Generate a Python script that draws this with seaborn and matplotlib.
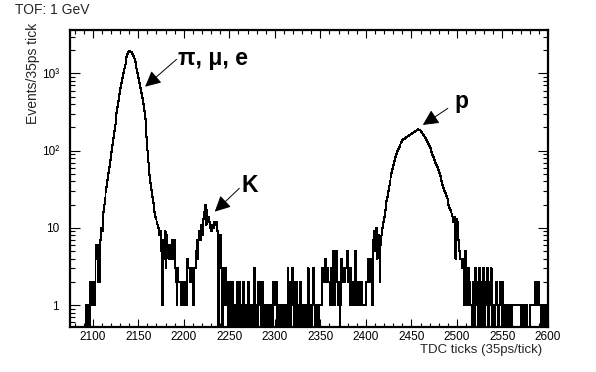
import numpy as np
import pandas as pd
import matplotlib
matplotlib.use("Agg")
import matplotlib.pyplot as plt
import matplotlib.ticker as mticker
import seaborn as sns

# ------------------------------------------------------------
# data: events per TDC tick, one value per tick starting at 2075
# ------------------------------------------------------------
first_tick = 2075
counts = [
    0, 0, 0, 0, 0, 0, 0, 0, 0, 0,              # 2075
    0, 0, 0, 0, 0, 0, 0, 0, 1, 1,              # 2085
    0, 0, 2, 1, 2, 1, 2, 1, 6, 4,              # 2095
    6, 2, 2, 7, 10, 9, 16, 20, 24, 29,         # 2105
    34, 42, 52, 62, 75, 95, 118, 145, 180, 215,                  # 2115
    260, 310, 370, 440, 540, 640, 750, 870, 1000, 1150,          # 2125
    1300, 1480, 1650, 1780, 1880, 1950, 1920, 1870, 1790, 1700,  # 2135
    1560, 1420, 1280, 1150, 1010, 880, 760, 650, 560, 480,       # 2145
    400, 330, 260, 200, 150, 100, 70, 48, 38, 31,                # 2155
    25, 21, 16, 14, 13, 12, 11, 10, 8, 9,      # 2165
    5, 1, 7, 4, 9, 3, 8, 6, 4, 6,              # 2175
    4, 6, 7, 4, 7, 3, 2, 1, 3, 2,              # 2185
    2, 2, 1, 2, 2, 1, 2, 1, 2, 4,              # 2195
    3, 3, 2, 3, 2, 1, 3, 3, 5, 7,              # 2205
    4, 7, 9, 7, 11, 8, 13, 16, 20, 11,         # 2215
    17, 12, 14, 12, 10, 9, 11, 10, 12, 11,     # 2225
    12, 9, 9, 0, 8, 8, 3, 0, 3, 1,             # 2235
    3, 1, 2, 2, 0, 1, 2, 0, 2, 1,              # 2245
    0, 1, 0, 2, 1, 0, 2, 0, 1, 0,              # 2255
    2, 1, 0, 1, 0, 1, 2, 0, 1, 0,              # 2265
    1, 0, 3, 1, 0, 1, 0, 2, 1, 2,              # 2275
    0, 2, 1, 0, 1, 0, 1, 0, 1, 1,              # 2285
    0, 1, 0, 2, 2, 1, 2, 0, 1, 0,              # 2295
    1, 0, 1, 0, 1, 1, 0, 1, 0, 3,              # 2305
    1, 2, 0, 1, 3, 2, 0, 1, 2, 0,              # 2315
    1, 0, 1, 2, 0, 1, 0, 1, 0, 1,              # 2325
    0, 3, 1, 0, 1, 0, 1, 3, 1, 0,              # 2335
    1, 0, 1, 0, 1, 1, 1, 3, 2, 3,              # 2345
    4, 2, 3, 2, 2, 1, 2, 3, 1, 5,              # 2355
    1, 2, 5, 2, 1, 2, 0, 1, 4, 2,              # 2365
    3, 2, 3, 3, 5, 2, 3, 1, 3, 2,              # 2375
    1, 2, 1, 5, 1, 2, 1, 2, 1, 1,              # 2385
    2, 1, 1, 1, 1, 2, 2, 4, 3, 2,              # 2395
    3, 4, 1, 7, 9, 5, 10, 4, 8, 5,             # 2405
    2, 6, 8, 10, 12, 14, 17, 22, 25, 30,       # 2415
    35, 40, 46, 52, 58, 66, 74, 82, 90, 98,    # 2425
    104, 112, 118, 125, 130, 136, 140, 143, 146, 150,  # 2435
    152, 155, 158, 160, 163, 166, 170, 172, 175, 178,  # 2445
    182, 185, 188, 186, 183, 178, 172, 166, 160, 152,  # 2455
    145, 138, 130, 122, 116, 108, 100, 95, 88, 82,     # 2465
    76, 70, 66, 62, 56, 52, 47, 42, 40, 36,    # 2475
    33, 30, 28, 26, 24, 20, 18, 17, 16, 15,    # 2485
    14, 12, 14, 4, 13, 12, 7, 5, 4, 4,         # 2495
    3, 4, 3, 1, 5, 3, 1, 3, 2, 1,              # 2505
    1, 1, 0, 2, 0, 3, 1, 2, 0, 3,              # 2515
    1, 0, 2, 1, 3, 0, 2, 1, 3, 0,              # 2525
    2, 1, 3, 1, 0, 1, 0, 1, 2, 1,              # 2535
    0, 1, 2, 1, 0, 2, 1, 0, 1, 0,              # 2545
    1, 0, 1, 0, 1, 0, 1, 1, 1, 1,              # 2555
    1, 1, 1, 1, 1, 0, 1, 0, 1, 0,              # 2565
    0, 1, 0, 0, 0, 1, 1, 1, 1, 1,              # 2575
    1, 2, 1, 1, 2, 1, 1, 0, 1, 0,              # 2585
    1, 0, 1, 1, 0,                             # 2595
]

xtick_values = [2100, 2150, 2200, 2250, 2300, 2350, 2400, 2450, 2500, 2550, 2600]
ytick_values = [1, 10, 100, 1000]
ytick_labels = ["1", "10", "10²", "10³"]
peak_labels = ["π, μ, e", "K", "p"]

# ------------------------------------------------------------
# style
# ------------------------------------------------------------
sns.set_theme(style="ticks")
plt.rcParams["font.family"] = ["Liberation Sans", "DejaVu Sans"]

n_bins = len(counts)
last_tick = first_tick + n_bins
df = pd.DataFrame({
    "tdc": np.arange(first_tick, last_tick) + 0.5,
    "events": counts,
})

W, H = 596, 372
fig = plt.figure(figsize=(W / 100, H / 100), dpi=100)
ax = fig.add_axes([70 / W, 45.3 / H, 478 / W, 296.7 / H])

sns.histplot(data=df, x="tdc", weights="events", binwidth=1,
             binrange=(first_tick, last_tick), element="step",
             fill=False, color="black", linewidth=0.7, antialiased=False, ax=ax)

ax.set_yscale("log")
ax.set_xlim(first_tick, last_tick)
ax.set_ylim(0.524, 3650)

ax.xaxis.set_major_locator(mticker.FixedLocator(xtick_values))
ax.xaxis.set_major_formatter(mticker.FixedFormatter([str(v) for v in xtick_values]))
ax.xaxis.set_minor_locator(mticker.MultipleLocator(10))
ax.yaxis.set_major_locator(mticker.FixedLocator(ytick_values))
ax.yaxis.set_major_formatter(mticker.FixedFormatter(ytick_labels))
ax.yaxis.set_minor_locator(mticker.LogLocator(base=10, subs=range(2, 10)))
ax.yaxis.set_minor_formatter(mticker.NullFormatter())

ax.tick_params(axis="both", which="both", direction="in", top=True, right=True,
               width=0.8, colors="black", labelsize=8.5)
ax.tick_params(axis="x", which="major", length=5.5, pad=3)
ax.tick_params(axis="x", which="minor", length=3)
ax.tick_params(axis="y", which="major", length=7, pad=8)
ax.tick_params(axis="y", which="minor", length=3.5)
for s in ax.spines.values():
    s.set_linewidth(1.6)
    s.set_color("black")
ax.set_xlabel("")
ax.set_ylabel("")

# peak annotations (text position, arrow tail, arrow tip in data coords)
annot = [
    ((2194, 1285), (2192, 1520), (2157.5, 673)),
    ((2263, 29.4), (2261, 32.5), (2234, 16.2)),
    ((2497, 360), (2490, 353), (2462.5, 215)),
]
for label, (txt, tail, tip) in zip(peak_labels, annot):
    ax.annotate("", xy=tip, xytext=tail,
                arrowprops=dict(arrowstyle="-|>,head_length=0.8,head_width=0.4",
                                color="black", lw=0.7, shrinkA=0, shrinkB=0))
    ax.text(txt[0], txt[1], label, fontsize=16.5, fontweight="bold",
            ha="left", va="baseline", color="black")

fig.text(15 / W, 1 - 10 / H, "TOF: 1 GeV", fontsize=10, ha="left", va="center")
fig.text(33 / W, 1 - 23 / H, "Events/35ps tick", fontsize=10, rotation=90,
         ha="center", va="top")
fig.text(542 / W, 1 - 350 / H, "TDC ticks (35ps/tick)", fontsize=9.5,
         ha="right", va="center")

fig.savefig("out.png", dpi=100, facecolor="white")
